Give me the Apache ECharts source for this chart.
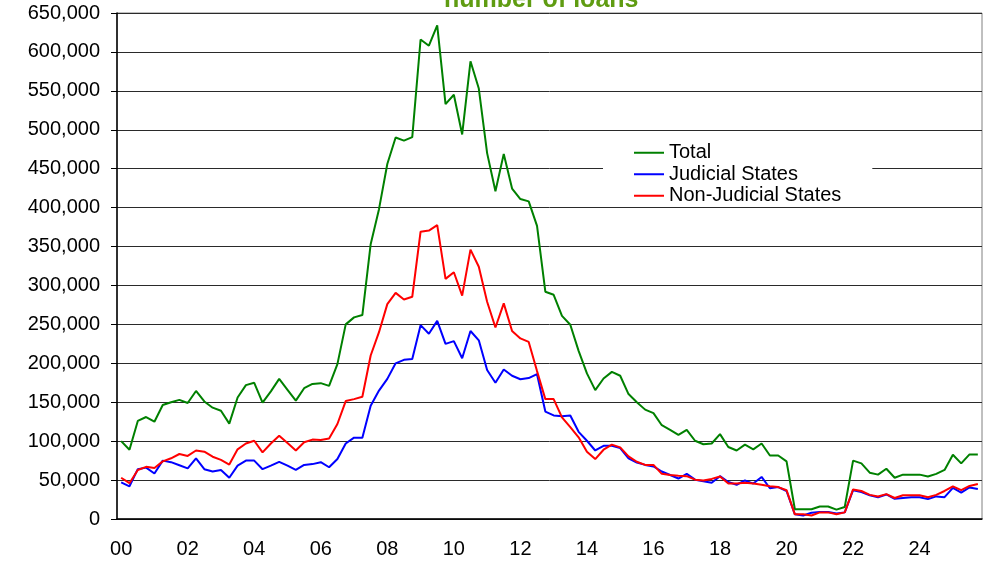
<!DOCTYPE html>
<html>
<head>
<meta charset="utf-8">
<title>number of loans</title>
<script src="https://cdn.jsdelivr.net/npm/echarts@6.0.0/dist/echarts.min.js"></script>
<style>
  html, body { margin: 0; padding: 0; background: #fff; }
  #chart { width: 988px; height: 565px; }
</style>
</head>
<body>
<div id="chart"></div>
<script>
// 年份 + 季度 -> 类目
var years = ['00', '01', '02', '03', '04', '05', '06', '07', '08', '09', '10', '11', '12',
  '13', '14', '15', '16', '17', '18', '19', '20', '21', '22', '23', '24', '25'];
var quarters = ['Q1', 'Q2', 'Q3', 'Q4'];
var categories = [];
years.forEach(function (y) {
  quarters.forEach(function (q) { categories.push(y + q); });
});

// quarterly values
var totalLoans = [
  100000, 89000, 126000, 131000, 125000, 146500, 150000, 153000, 149000, 164500, 151000, 143000, 139000,
  122500, 156000, 172000, 175000, 149500, 164000, 180000, 166000, 152000, 168000, 173500, 174500, 171000,
  199000, 250000, 259000, 262000, 353000, 398000, 456000, 490000, 486000, 490500, 616000, 608000, 634000,
  533000, 545000, 494000, 588000, 553000, 470000, 421000, 469000, 424500, 411000, 408000, 376500, 292000,
  288000, 261000, 249500, 216000, 187000, 165500, 180500, 189000, 184000, 160500, 150000, 140500, 136000,
  120500, 114500, 108000, 114500, 100500, 96000, 97000, 109000, 92500, 88000, 95500, 89500, 97000,
  81500, 81500, 74000, 12500, 12500, 12500, 16000, 16000, 12000, 15500, 75000, 71500, 59500,
  57000, 64500, 53000, 57000, 57000, 57000, 54500, 58000, 63000, 82500, 71500, 83000, 83000
];
var judicialLoans = [
  47000, 42000, 64000, 66000, 58500, 75000, 73000, 69000, 65000, 78000, 64000, 61000, 63000,
  53000, 68500, 75000, 75000, 64000, 68500, 73500, 68500, 63000, 69500, 70500, 73000, 66500,
  77000, 97000, 104500, 104500, 145500, 165000, 180000, 200000, 204500, 205500, 249000, 238000, 254500,
  225000, 228500, 206500, 241500, 229500, 191500, 175000, 192000, 184000, 179500, 181000, 186000, 138000,
  133000, 132000, 133000, 112000, 100500, 88000, 94000, 94000, 91000, 78000, 72500, 69500, 67500,
  61000, 56500, 52000, 58000, 50500, 48500, 46500, 55000, 47500, 44000, 49500, 45500, 54000,
  39500, 41000, 36000, 6000, 4500, 8000, 9000, 9000, 7000, 8500, 37000, 34500, 30500,
  28000, 31500, 26000, 27000, 28000, 28000, 25500, 29000, 28000, 40000, 34000, 40500, 38500
];
var nonJudicialLoans = [
  53000, 46000, 63000, 67000, 65500, 74000, 78000, 83500, 81000, 88000, 86500, 80000, 76000,
  70000, 89500, 97000, 100500, 85500, 97000, 107000, 97500, 88000, 98500, 102000, 101500, 103500,
  122000, 151500, 154000, 157000, 210000, 240000, 276000, 290500, 282000, 285500, 369000, 370500, 377500,
  308500, 317000, 287000, 346000, 324000, 279000, 246000, 277000, 241500, 232000, 227500, 190000, 154000,
  154000, 130500, 118000, 105000, 86500, 77000, 89000, 95500, 92000, 80500, 73500, 69500, 69500,
  58000, 56500, 55500, 55000, 50500, 49500, 51500, 54500, 45500, 45500, 46500, 45500, 44000,
  42000, 41000, 37000, 6000, 6000, 4500, 8500, 8500, 6000, 8500, 38000, 36000, 31000,
  29000, 32000, 27000, 30500, 30500, 30500, 28000, 31000, 36000, 42000, 37000, 42500, 45000
];
var seriesNames = ['Total', 'Judicial States', 'Non-Judicial States'];
var seriesColors = ['#008000', '#0000ff', '#ff0000'];

var font = 'Liberation Sans, Arial, sans-serif';
var chart = echarts.init(document.getElementById('chart'));

function lineSeries(name, data, color) {
  return {
    name: name,
    type: 'line',
    data: data,
    symbol: 'none',
    lineStyle: { color: color, width: 2 },
    itemStyle: { color: color },
    animation: false
  };
}

chart.setOption({
  backgroundColor: '#fff',
  animation: false,
  title: {
    text: 'number of loans',
    left: 439,
    top: -17,
    textStyle: { color: '#5f9c12', fontSize: 25, fontWeight: 'bold', fontFamily: font }
  },
  legend: {
    orient: 'vertical',
    left: 603,
    top: 140,
    padding: [2, 31, 0, 31],
    backgroundColor: '#fff',
    icon: 'rect',
    itemWidth: 30,
    itemHeight: 2,
    itemGap: 0,
    textStyle: { color: '#000', fontSize: 20, fontFamily: font, lineHeight: 21.5 },
    data: seriesNames
  },
  grid: {
    left: 117, right: 6, top: 13, bottom: 46,
    show: true, borderColor: '#808080', borderWidth: 1
  },
  xAxis: {
    type: 'category',
    data: categories,
    boundaryGap: true,
    axisLine: { lineStyle: { color: '#000', width: 1.5 } },
    axisTick: { interval: 3, length: 7, lineStyle: { color: '#000', width: 1 } },
    axisLabel: {
      interval: 7,
      margin: 20,
      color: '#000',
      fontSize: 20,
      fontFamily: font,
      formatter: function (v) { return v.slice(0, 2); }
    },
    splitLine: { show: false }
  },
  yAxis: {
    type: 'value',
    min: 0,
    max: 650000,
    interval: 50000,
    axisLine: { show: true, lineStyle: { color: '#000', width: 1.5 } },
    axisTick: { show: true, length: 6, lineStyle: { color: '#000' } },
    axisLabel: {
      margin: 17,
      color: '#000',
      fontSize: 20,
      fontFamily: font,
      formatter: function (v) { return v.toLocaleString('en-US'); }
    },
    splitLine: { lineStyle: { color: '#2a2a2a', width: 1 } }
  },
  series: [
    lineSeries(seriesNames[0], totalLoans, seriesColors[0]),
    lineSeries(seriesNames[1], judicialLoans, seriesColors[1]),
    lineSeries(seriesNames[2], nonJudicialLoans, seriesColors[2])
  ]
});
</script>
</body>
</html>
